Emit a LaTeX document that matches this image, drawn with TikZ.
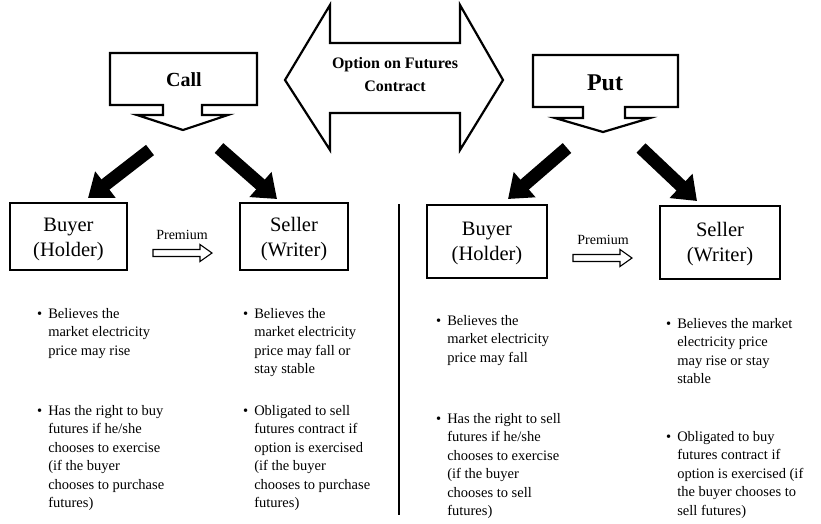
\documentclass[tikz,border=0pt]{standalone}
\usepackage{fontspec}
\setmainfont{Liberation Serif}
\usetikzlibrary{arrows.meta}
\begin{document}
\begin{tikzpicture}[x=1pt,y=-1pt,
  outline/.style={draw=black, line width=2.2pt, line join=miter, fill=white},
  bigarrow/.style={line width=13pt, -{Triangle[length=22pt,width=32pt]}},
  partybox/.style={draw=black, line width=2.6pt, inner sep=0pt},
  partytext/.style={align=center, inner sep=0pt, font=\fontsize{20.5}{25}\selectfont},
  itemtext/.style={anchor=base west, inner sep=0pt, font=\fontsize{14.5}{18.5}\selectfont},
  premtext/.style={inner sep=0pt, font=\fontsize{14}{16}\selectfont},
  hollow/.style={draw=black, line width=1.1pt, fill=white, line join=miter},
  headtext/.style={inner sep=0pt, align=center, font=\bfseries},
]
% canvas
\useasboundingbox (0,0) rectangle (821,523);

% central double arrow
\draw[outline] (285,80) -- (330,5) -- (330,43) -- (460,43) -- (460,5) -- (503,80)
  -- (460,150) -- (460,113) -- (330,113) -- (330,150) -- cycle;
\node[headtext, font=\bfseries\fontsize{16}{23}\selectfont] (opt) at (395,75)
  {Option on Futures\\Contract};

% call callout
\draw[outline] (110,53) -- (257,53) -- (257,105) -- (202,105) -- (202,115) -- (228,115)
  -- (183,130) -- (137,115) -- (163,115) -- (163,105) -- (110,105) -- cycle;
\node[headtext, font=\bfseries\fontsize{20}{23}\selectfont] (call) at (184,80) {Call};

% put callout
\draw[outline] (533,55) -- (678,55) -- (678,107) -- (625,107) -- (625,118) -- (650,118)
  -- (603,132) -- (555,118) -- (583,118) -- (583,107) -- (533,107) -- cycle;
\node[headtext, font=\bfseries\fontsize{24}{27}\selectfont] (put) at (605,83) {Put};

% parties
\node[partybox, minimum width=117pt, minimum height=67pt] (lbuy) at (68.5,236.5) {};
\node[partybox, minimum width=108pt, minimum height=67pt] (lsell) at (294,236.5) {};
\node[partybox, minimum width=120pt, minimum height=73pt] (rbuy) at (487,241.5) {};
\node[partybox, minimum width=120pt, minimum height=73pt] (rsell) at (720,242.5) {};
\node[partytext] (lbuyt) at ([yshift=-3pt]lbuy.center) {Buyer\\(Holder)};
\node[partytext] (lsellt) at ([yshift=-3pt]lsell.center) {Seller\\(Writer)};
\node[partytext] (rbuyt) at ([yshift=-2pt]rbuy.center) {Buyer\\(Holder)};
\node[partytext] (rsellt) at ([yshift=-2pt]rsell.center) {Seller\\(Writer)};

% heavy arrows from the callouts to the parties
\coordinate (cA) at (150,150); \coordinate (cAe) at (88,198);
\coordinate (cB) at (219,148); \coordinate (cBe) at (277,199);
\coordinate (pA) at (567,148); \coordinate (pAe) at (508,199);
\coordinate (pB) at (641,148); \coordinate (pBe) at (697,201);
\draw[bigarrow] (cA) -- (cAe);
\draw[bigarrow] (cB) -- (cBe);
\draw[bigarrow] (pA) -- (pAe);
\draw[bigarrow] (pB) -- (pBe);

% premium arrows
\coordinate (lp) at (153,253);
\draw[hollow] (lp) ++(0,-3.5) -- ++(47,0) -- ++(0,-5) -- ++(12,8.5) -- ++(-12,8.5)
  -- ++(0,-5) -- ++(-47,0) -- cycle;
\node[premtext] (lpt) at (182,235) {Premium};
\coordinate (rp) at (573,258);
\draw[hollow] (rp) ++(0,-3.5) -- ++(47,0) -- ++(0,-5) -- ++(12,8.5) -- ++(-12,8.5)
  -- ++(0,-5) -- ++(-47,0) -- cycle;
\node[premtext] (rpt) at (603,240) {Premium};

% divider
\coordinate (d1) at (399,204); \coordinate (d2) at (399,515);
\draw[line width=1.4pt] (d1) -- (d2);

% descriptions
\newcommand{\bl}{\textbullet}
\node[itemtext] (lb1) at (37,318) {\begin{tabular}[t]{@{}l@{\hspace{6pt}}l@{}}
  \bl & Believes the\\ & market electricity\\ & price may rise\end{tabular}};
\node[itemtext] (lb2) at (37,415) {\begin{tabular}[t]{@{}l@{\hspace{6pt}}l@{}}
  \bl & Has the right to buy\\ & futures if he/she\\ & chooses to exercise\\
  & (if the buyer\\ & chooses to purchase\\ & futures)\end{tabular}};
\node[itemtext] (ls1) at (243,318) {\begin{tabular}[t]{@{}l@{\hspace{6pt}}l@{}}
  \bl & Believes the\\ & market electricity\\ & price may fall or\\ & stay stable\end{tabular}};
\node[itemtext] (ls2) at (243,415) {\begin{tabular}[t]{@{}l@{\hspace{6pt}}l@{}}
  \bl & Obligated to sell\\ & futures contract if\\ & option is exercised\\
  & (if the buyer\\ & chooses to purchase\\ & futures)\end{tabular}};
\node[itemtext] (rb1) at (436,325) {\begin{tabular}[t]{@{}l@{\hspace{6pt}}l@{}}
  \bl & Believes the\\ & market electricity\\ & price may fall\end{tabular}};
\node[itemtext] (rb2) at (436,423) {\begin{tabular}[t]{@{}l@{\hspace{6pt}}l@{}}
  \bl & Has the right to sell\\ & futures if he/she\\ & chooses to exercise\\
  & (if the buyer\\ & chooses to sell\\ & futures)\end{tabular}};
\node[itemtext] (rs1) at (666,328) {\begin{tabular}[t]{@{}l@{\hspace{6pt}}l@{}}
  \bl & Believes the market\\ & electricity price\\ & may rise or stay\\ & stable\end{tabular}};
\node[itemtext] (rs2) at (666,441) {\begin{tabular}[t]{@{}l@{\hspace{6pt}}l@{}}
  \bl & Obligated to buy\\ & futures contract if\\ & option is exercised (if\\
  & the buyer chooses to\\ & sell futures)\end{tabular}};
\end{tikzpicture}
\end{document}
